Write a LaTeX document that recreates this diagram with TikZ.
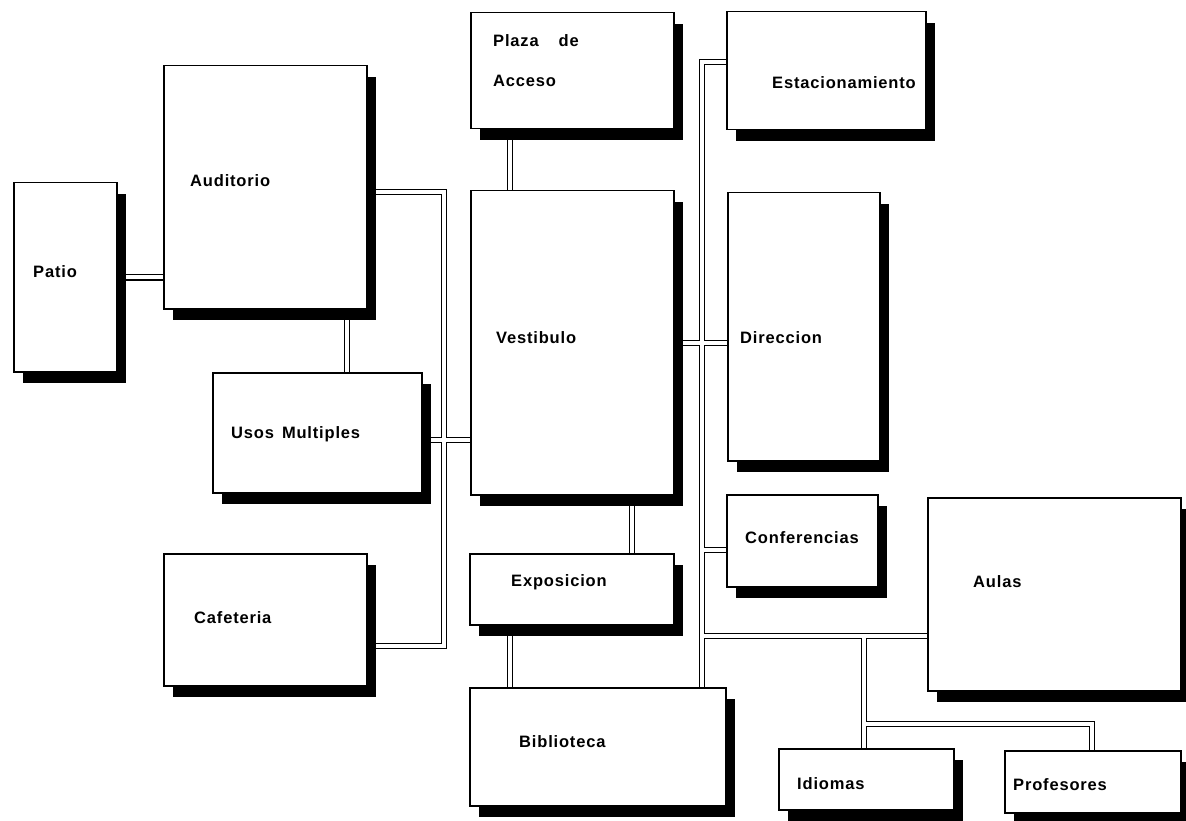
\documentclass[tikz,border=0pt]{standalone}
\usepackage{fontspec}
\newfontfamily\rotfont{Liberation Sans}[LetterSpace=5]
\usetikzlibrary{shadows, backgrounds}

% pasillos (double corridors), drawn once as walls and once as floor
\newcommand{\pasillos}[1]{%
    \draw[#1] (patio.east) -- (patio.east -| audit.west);
    \draw[#1] ([xshift=40pt]plaza.south west) -- ([xshift=40pt]vesti.north west);
    \draw[#1] ([xshift=184pt]audit.south west) -- ([xshift=135pt]usos.north west);
    \draw[#1] (nA -| audit.east) -- (nA) -- (nC) -- (nC -| cafe.east);
    \draw[#1] (nU -| usos.east) -- (nU -| vesti.west);
    \draw[#1] ([xshift=162pt]vesti.south west) -- ([xshift=163pt]expo.north west);
    \draw[#1] ([xshift=41pt]expo.south west) -- ([xshift=41pt]biblio.north west);
    \draw[#1] (nE -| estac.west) -- (nE) -- (nE |- biblio.north);
    \draw[#1] (nV -| vesti.east) -- (nV -| direc.west);
    \draw[#1] (nF) -- (nF -| confe.west);
    \draw[#1] (nL) -- (nL -| aulas.west);
    \draw[#1] (nI) -- (nI |- idiom.north);
    \draw[#1] (nP) -- (nQ) -- (nQ |- profe.north);
}

\begin{document}
\begin{tikzpicture}[
    x=1pt, y=-1pt,
    sala/.style={rectangle, draw, line width=1.5pt, fill=white, anchor=north west, inner sep=0pt,
        drop shadow={shadow xshift=9pt, shadow yshift=-11pt, fill=black, opacity=1}},
    rotulo/.style={font=\rotfont\bfseries\fontsize{16.5}{19}\selectfont, inner sep=0pt, anchor=base west},
    muro/.style={line width=6.6pt, black},
    piso/.style={line width=3.8pt, white}
]
    \useasboundingbox (0,0) rectangle (1186,821);

    % Salas
    \node (patio) [sala, minimum width=103pt, minimum height=189pt] at (13,182) {};
    \node (audit) [sala, minimum width=203pt, minimum height=243pt] at (163,65) {};
    \node (plaza) [sala, minimum width=203pt, minimum height=116pt] at (470,12) {};
    \node (estac) [sala, minimum width=199pt, minimum height=118pt] at (726,11) {};
    \node (vesti) [sala, minimum width=203pt, minimum height=304pt] at (470,190) {};
    \node (direc) [sala, minimum width=152pt, minimum height=268pt] at (727,192) {};
    \node (usos) [sala, minimum width=209pt, minimum height=120pt] at (212,372) {};
    \node (cafe) [sala, minimum width=203pt, minimum height=132pt] at (163,553) {};
    \node (expo) [sala, minimum width=204pt, minimum height=71pt] at (469,553) {};
    \node (biblio) [sala, minimum width=256pt, minimum height=118pt] at (469,687) {};
    \node (confe) [sala, minimum width=151pt, minimum height=92pt] at (726,494) {};
    \node (aulas) [sala, minimum width=253pt, minimum height=193pt] at (927,497) {};
    \node (idiom) [sala, minimum width=175pt, minimum height=61pt] at (778,748) {};
    \node (profe) [sala, minimum width=176pt, minimum height=62pt] at (1004,750) {};

    % Rotulos
    \node (t-patio) [rotulo] at (33,277) {Patio};
    \node (t-audit) [rotulo] at (190,187) {Auditorio};
    \node (t-plaza) [rotulo] at (493,47) {Plaza\hspace{20pt}de};
    \node (t-acceso) [rotulo] at (493,87) {Acceso};
    \node (t-estac) [rotulo] at (772,89) {Estacionamiento};
    \node (t-vesti) [rotulo] at (496,343) {Vestibulo};
    \node (t-direc) [rotulo] at (740,343) {Direccion};
    \node (t-usos) [rotulo] at (231,438) {Usos\hspace{8pt}Multiples};
    \node (t-confe) [rotulo] at (745,543) {Conferencias};
    \node (t-expo) [rotulo] at (511,586) {Exposicion};
    \node (t-cafe) [rotulo] at (194,623) {Cafeteria};
    \node (t-aulas) [rotulo] at (973,587) {Aulas};
    \node (t-biblio) [rotulo] at (519,747) {Biblioteca};
    \node (t-idiom) [rotulo] at (797,789) {Idiomas};
    \node (t-profe) [rotulo] at (1013,790) {Profesores};

    % Quiebres de los pasillos
    \coordinate (nA) at (444,192);
    \coordinate (nC) at (444,646);
    \coordinate (nU) at (444,440);
    \coordinate (nE) at (702,62);
    \coordinate (nV) at (702,343);
    \coordinate (nF) at (702,550);
    \coordinate (nL) at (702,636);
    \coordinate (nI) at (864,636);
    \coordinate (nP) at (864,724);
    \coordinate (nQ) at (1092,724);

    \begin{scope}[on background layer]
        \pasillos{muro}
        \pasillos{piso}
    \end{scope}
\end{tikzpicture}
\end{document}
